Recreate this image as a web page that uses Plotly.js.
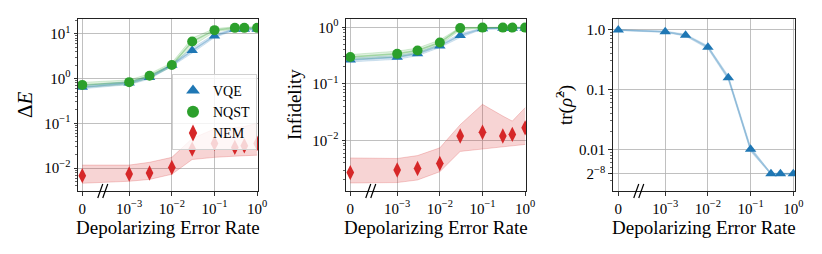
<!DOCTYPE html>
<html>
<head>
<meta charset="utf-8">
<script src="https://cdn.plot.ly/plotly-3.0.1.min.js"></script>
<style>
html,body{margin:0;padding:0;background:#fff;}
#chart{width:822px;height:254px;}
#chart svg text{font-family:"Liberation Serif","DejaVu Serif",serif !important;}
</style>
</head>
<body>
<div id="chart"></div>
<script>
// ---------- data ----------
const xRates = [0, 0.001, 0.003, 0.01, 0.03, 0.1, 0.3, 0.5, 1];
const xTickRates = [0, 0.001, 0.01, 0.1, 1];
const xTickLabels = ['0', '10<sup>−3</sup>', '10<sup>−2</sup>', '10<sup>−1</sup>', '10<sup>0</sup>'];

// Panel 1: Delta E
const vqeDeltaE    = [0.64, 0.79, 1.05, 1.98, 4.2, 8.9, 12.5, 12.5, 12.5];
const vqeDeltaELo  = [0.59, 0.73, 0.97, 1.86, 3.7, 8.2, 11.9, 11.9, 11.9];
const vqeDeltaEHi  = [0.70, 0.86, 1.13, 2.10, 4.8, 9.7, 13.1, 13.1, 13.1];
const nqstDeltaE   = [0.72, 0.83, 1.15, 2.00, 6.7, 12.0, 13.5, 13.5, 13.5];
const nqstDeltaELo = [0.63, 0.74, 1.03, 1.82, 5.3, 11.0, 12.8, 12.8, 12.8];
const nqstDeltaEHi = [0.82, 0.93, 1.28, 2.25, 8.0, 13.0, 14.2, 14.2, 14.2];
const nemDeltaE    = [0.0068, 0.0074, 0.0078, 0.0103, 0.0266, 0.0357, 0.029, 0.0316, 0.0357];
const nemDeltaELo  = [0.0046, 0.0051, 0.0056, 0.0073, 0.0156, 0.0174, 0.0185, 0.019, 0.0195];
const nemDeltaEHi  = [0.0117, 0.0117, 0.0135, 0.0174, 0.046, 0.075, 0.080, 0.085, 0.10];

// Panel 2: Infidelity
const vqeInfid    = [0.265, 0.295, 0.34, 0.47, 0.72, 0.95, 0.96, 0.96, 0.96];
const vqeInfidLo  = [0.245, 0.272, 0.315, 0.44, 0.66, 0.93, 0.94, 0.94, 0.94];
const vqeInfidHi  = [0.285, 0.318, 0.365, 0.50, 0.78, 0.97, 0.98, 0.98, 0.98];
const nqstInfid   = [0.30, 0.34, 0.39, 0.54, 0.97, 0.99, 0.99, 0.99, 0.99];
const nqstInfidLo = [0.27, 0.30, 0.35, 0.49, 0.90, 0.97, 0.97, 0.97, 0.97];
const nqstInfidHi = [0.33, 0.38, 0.43, 0.60, 1.00, 1.00, 1.00, 1.00, 1.00];
const nemInfid    = [0.0027, 0.0030, 0.0032, 0.0039, 0.012, 0.014, 0.012, 0.0128, 0.0167];
const nemInfidLo  = [0.00177, 0.0018, 0.0020, 0.0028, 0.0064, 0.0071, 0.0076, 0.0080, 0.0085];
const nemInfidHi  = [0.0049, 0.0048, 0.0054, 0.0074, 0.019, 0.0435, 0.027, 0.022, 0.038];

// Panel 3: purity tr(rho^2)
const vqePurity   = [0.99, 0.925, 0.81, 0.51, 0.157, 0.0100, 0.0039, 0.0039, 0.0039];
const vqePurityLo = [0.97, 0.90, 0.78, 0.48, 0.145, 0.0092, 0.0038, 0.0038, 0.0038];
const vqePurityHi = [1.00, 0.95, 0.84, 0.54, 0.170, 0.0110, 0.0040, 0.0040, 0.0040];
const purityTickVals = [1.0, 0.1, 0.01, Math.pow(2, -8)];
const purityTickLabels = ['1.0', '0.1', '0.01', '2<sup>−8</sup>'];

// ---------- styling ----------
const ZERO_LOG = -4.1; // display position of the "0" rate on the log axis
const toX = v => v === 0 ? Math.pow(10, ZERO_LOG) : v;
const X = xRates.map(toX);
const XT = xTickRates.map(toX);

const C = {
  blue: {m: '#1f77b4', l: 'rgba(31,119,180,0.18)', ml: 'rgba(31,119,180,0.35)', f: 'rgba(31,119,180,0.15)'},
  green: {m: '#2ca02c', l: 'rgba(44,160,44,0.18)', ml: 'rgba(44,160,44,0.35)', f: 'rgba(44,160,44,0.15)'},
  red: {m: '#d62728', l: 'rgba(214,39,40,0.22)', ml: 'rgba(214,39,40,0.3)', f: 'rgba(214,39,40,0.2)'}
};
const SYM = {VQE: 'triangle-up', NQST: 'circle', NEM: 'diamond-tall'};
const SIZE = {VQE: 10, NQST: 10, NEM: 11};

const traces = [];
function addSeries(name, y, lo, hi, col, xa, ya) {
  traces.push({x: X, y: lo, xaxis: xa, yaxis: ya, mode: 'lines', line: {color: col.l, width: 1}, showlegend: false, hoverinfo: 'skip'});
  traces.push({x: X, y: hi, xaxis: xa, yaxis: ya, mode: 'lines', line: {color: col.l, width: 1}, fill: 'tonexty', fillcolor: col.f, showlegend: false, hoverinfo: 'skip'});
  if (name !== 'NEM') traces.push({x: X, y: y, xaxis: xa, yaxis: ya, mode: 'lines', line: {color: col.ml, width: 1.5}, showlegend: false});
}
function addMarkers(name, y, col, xa, ya, legend) {
  traces.push({x: X, y: y, xaxis: xa, yaxis: ya, mode: 'markers', name: name, showlegend: legend,
    marker: {symbol: SYM[name], size: SIZE[name], color: col.m, line: {width: 0}}});
}

// panel 1
addSeries('NQST', nqstDeltaE, nqstDeltaELo, nqstDeltaEHi, C.green, 'x', 'y');
addSeries('VQE', vqeDeltaE, vqeDeltaELo, vqeDeltaEHi, C.blue, 'x', 'y');
addSeries('NEM', nemDeltaE, nemDeltaELo, nemDeltaEHi, C.red, 'x', 'y');
addMarkers('VQE', vqeDeltaE, C.blue, 'x', 'y', true);
addMarkers('NQST', nqstDeltaE, C.green, 'x', 'y', true);
addMarkers('NEM', nemDeltaE, C.red, 'x', 'y', true);
// panel 2
addSeries('NQST', nqstInfid, nqstInfidLo, nqstInfidHi, C.green, 'x2', 'y2');
addSeries('VQE', vqeInfid, vqeInfidLo, vqeInfidHi, C.blue, 'x2', 'y2');
addSeries('NEM', nemInfid, nemInfidLo, nemInfidHi, C.red, 'x2', 'y2');
addMarkers('VQE', vqeInfid, C.blue, 'x2', 'y2', false);
addMarkers('NQST', nqstInfid, C.green, 'x2', 'y2', false);
addMarkers('NEM', nemInfid, C.red, 'x2', 'y2', false);
// panel 3
addSeries('VQE', vqePurity, vqePurityLo, vqePurityHi, C.blue, 'x3', 'y3');
addMarkers('VQE', vqePurity, C.blue, 'x3', 'y3', false);

// minor tick positions on log y axes
function minorVals(lo, hi) {
  const out = [];
  for (let d = Math.floor(lo); d <= Math.ceil(hi); d++)
    for (let k = 2; k <= 9; k++) out.push(k * Math.pow(10, d));
  return out;
}

const W = 822, H = 254;
const yTop = 19, yBot = 191;
const yDom = [(H - yBot) / H, (H - yTop) / H];
const FAM = 'Liberation Serif';
const font = {family: FAM, size: 15, color: '#000'};

function xAxis(px0, px1, range, anchor) {
  return {type: 'log', domain: [px0 / W, px1 / W], range: range, anchor: anchor,
    tickmode: 'array', tickvals: XT, ticktext: xTickLabels,
    ticks: 'outside', ticklen: 3.5, tickwidth: 0.8, tickcolor: '#000',
    showline: true, linecolor: '#222', linewidth: 1, mirror: true,
    showgrid: true, gridcolor: '#b0b0b0', gridwidth: 0.8, zeroline: false,
    tickfont: font};
}
function yAxis(range, anchor, tv, tt) {
  return {type: 'log', domain: yDom, range: range, anchor: anchor,
    tickmode: 'array', tickvals: tv, ticktext: tt,
    ticks: 'outside', ticklen: 3.5, tickwidth: 0.8, tickcolor: '#000',
    minor: {tickmode: 'array', tickvals: minorVals(range[0], range[1]), ticks: 'outside', ticklen: 2, tickwidth: 0.6, tickcolor: '#000', showgrid: false},
    showline: true, linecolor: '#222', linewidth: 1, mirror: true,
    showgrid: true, gridcolor: '#b0b0b0', gridwidth: 0.8, zeroline: false,
    tickfont: font};
}

const decTicks = [10, 1, 0.1, 0.01];
const decLabels = ['10<sup>1</sup>', '10<sup>0</sup>', '10<sup>−1</sup>', '10<sup>−2</sup>'];

const panels = [[78, 258], [346, 526], [612.7, 795.3]];
const yMid = (yDom[0] + yDom[1]) / 2;
const annotations = [];
const titles = ['Δ<i>E</i>', 'Infidelity', 'tr(<i>ρ̂</i><sup>2</sup>)'];
const titleX = [25, 295, 565];
panels.forEach((p, i) => {
  annotations.push({xref: 'paper', yref: 'paper', x: (p[0] + p[1]) / 2 / W, y: (H - 227) / H,
    text: 'Depolarizing Error Rate', showarrow: false, font: {family: FAM, size: 19, color: '#000'}, xanchor: 'center', yanchor: 'middle'});
  annotations.push({xref: 'paper', yref: 'paper', x: titleX[i] / W, y: yMid, textangle: -90,
    text: titles[i], showarrow: false, font: {family: FAM, size: i === 0 ? 21 : 19, color: '#000'}, xanchor: 'center', yanchor: 'middle'});
});

// axis-break marks "//"
const shapes = [];
[['x', 'y', -4.2, 0.02], ['x2', 'y2', -4.2, 0.02], ['x3', 'y3', -4.23, 0.047]].forEach(a => {
  const frac = (-3.62 - a[2]) / (a[3] - a[2]);
  [-2.5, 2.5].forEach(off => {
    shapes.push({type: 'line', xref: a[0] + ' domain', yref: a[1] + ' domain', xsizemode: 'pixel', ysizemode: 'pixel',
      xanchor: frac, yanchor: 0, x0: off - 2.5, x1: off + 2.5, y0: -7, y1: 7, line: {color: '#000', width: 1.2}});
  });
});

const layout = {
  width: W, height: H, margin: {l: 0, r: 0, t: 0, b: 0},
  paper_bgcolor: '#fff', plot_bgcolor: '#fff', font: font,
  showlegend: true,
  legend: {x: 172 / W, y: (H - 74) / H, xanchor: 'left', yanchor: 'top', traceorder: 'normal',
    bgcolor: 'rgba(255,255,255,0.8)', bordercolor: '#d0d0d0', borderwidth: 1,
    font: {family: FAM, size: 14, color: '#000'}, itemsizing: 'constant', itemwidth: 30, tracegroupgap: 0},
  xaxis: xAxis(78, 258, [-4.2, 0.02], 'y'),
  yaxis: yAxis([-2.51, 1.328], 'x', decTicks, decLabels),
  xaxis2: xAxis(346, 526, [-4.2, 0.02], 'y2'),
  yaxis2: yAxis([-2.894, 0.148], 'x2', decTicks, decLabels),
  xaxis3: xAxis(612.7, 795.3, [-4.23, 0.047], 'y3'),
  yaxis3: yAxis([-2.697, 0.179], 'x3', purityTickVals, purityTickLabels),
  annotations: annotations,
  shapes: shapes
};

Plotly.newPlot('chart', traces, layout, {staticPlot: true, displayModeBar: false});
</script>
</body>
</html>
